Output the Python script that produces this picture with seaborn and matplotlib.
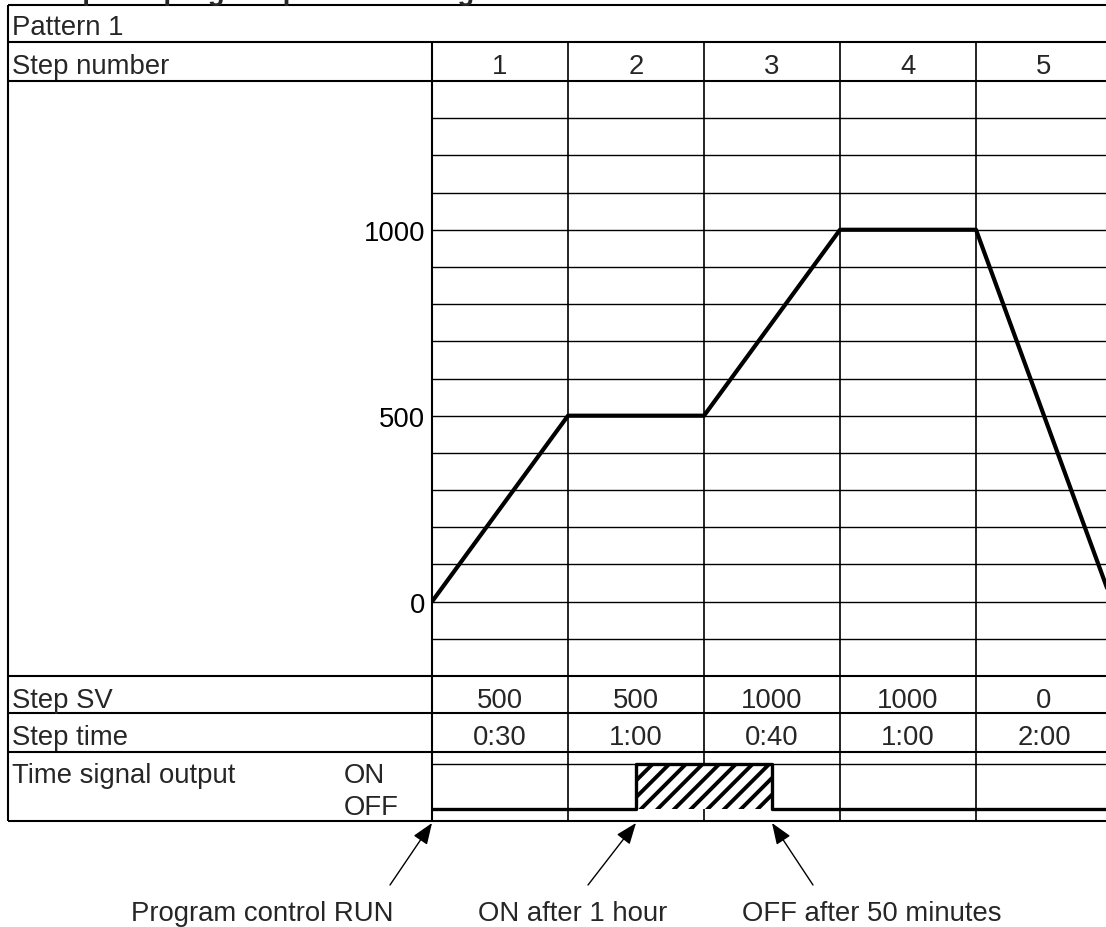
"""
Program pattern setting example: step SV ramp + time signal output row
"""
import matplotlib
matplotlib.use("Agg")
import matplotlib.pyplot as plt
import matplotlib.transforms as mtrans
import numpy as np
import pandas as pd
import seaborn as sns

sns.set_theme(style="white")
plt.rcParams.update({
    "font.family": ["Liberation Sans", "DejaVu Sans"],
    "font.size": 19.8,
    "hatch.linewidth": 2.8,
    "hatch.color": "black",
})

# ---- data -------------------------------------------------------------
TITLE = "Example of program pattern setting"
PATTERN_LABEL = "Pattern 1"
ROW_LABELS = ["Step number", "Step SV", "Step time", "Time signal output"]
STEP_NUMBERS = [1, 2, 3, 4, 5]
START_SV = 0
STEP_SV = [500, 500, 1000, 1000, 0]
STEP_TIME = ["0:30", "1:00", "0:40", "1:00", "2:00"]
Y_TICKS = [0, 500, 1000]
SIGNAL_ON_MIN = 60      # ON after 1 hour
SIGNAL_OFF_MIN = 110    # OFF after 50 minutes more
NOTES = ["Program control RUN", "ON after 1 hour", "OFF after 50 minutes"]

# ---- layout (pixels) --------------------------------------------------
W, H = 1106, 928
X_LEFT, X_DATA, COL_W = 8, 432, 136
Y_TOP, Y_PAT, Y_STEP = 6, 43, 82
Y_PLOT_BOT, Y_SV, Y_TIME, Y_BOT = 677, 714, 753, 822
Y_ON, Y_OFF = 765, 810


def fig_rect(x0, y0, x1, y1):
    return [x0 / W, 1 - y1 / H, (x1 - x0) / W, (y1 - y0) / H]


step_min = [int(t.split(":")[0]) * 60 + int(t.split(":")[1]) for t in STEP_TIME]
bounds = np.concatenate([[0], np.cumsum(step_min)])
step_idx = np.arange(len(bounds))


def to_step(minutes):
    return float(np.interp(minutes, bounds, step_idx))


fig = plt.figure(figsize=(W / 100, H / 100), dpi=100)

# table frame in pixel coords
frame = fig.add_axes([0, 0, 1, 1], zorder=0)
frame.set_xlim(0, W)
frame.set_ylim(H, 0)
frame.axis("off")

# main SV plot
ax = fig.add_axes(fig_rect(X_DATA, Y_STEP, W, Y_PLOT_BOT), zorder=2)
ax.patch.set_alpha(0)
df = pd.DataFrame({"step": step_idx, "sv": [START_SV] + STEP_SV})
sns.lineplot(data=df, x="step", y="sv", ax=ax, color="black", lw=3, zorder=5)
ax.set_xlim(0, (W - X_DATA) / COL_W)
ax.set_ylim(-200, 1400)
ax.set_yticks(Y_TICKS)
ax.set_yticks(np.arange(-100, 1400, 100), minor=True)
ax.grid(which="both", axis="y", color="black", lw=1.0)
ax.tick_params(axis="y", which="both", length=0, pad=5, labelsize=19.8, colors="black")
ax.tick_params(axis="x", bottom=False, labelbottom=False)
ax.set_xlabel("")
ax.set_ylabel("")
for s in ax.spines.values():
    s.set_visible(False)

# time signal row
ax_sig = fig.add_axes(fig_rect(X_DATA, Y_TIME, W, Y_BOT), sharex=ax, zorder=3)
ax_sig.patch.set_alpha(0)
px = Y_OFF - Y_ON
ax_sig.set_ylim(-(Y_BOT - Y_OFF) / px, 1 + (Y_ON - Y_TIME) / px)
x_on, x_off = to_step(SIGNAL_ON_MIN), to_step(SIGNAL_OFF_MIN)
sig_x = [0, x_on, x_on, x_off, x_off, len(STEP_SV)]
sig_y = [0, 0, 1, 1, 0, 0]
ax_sig.fill_between([x_on, x_off], 0, 1, facecolor="white", hatch="//",
                    edgecolor="black", lw=0, zorder=2)
ax_sig.axhline(1, color="black", lw=1.0, zorder=1)
sns.lineplot(x=sig_x, y=sig_y, sort=False, estimator=None, ax=ax_sig,
             color="black", lw=2.4, zorder=4)
ax_sig.axis("off")

# table lines
for y in [Y_TOP, Y_PAT, Y_STEP, Y_PLOT_BOT, Y_SV, Y_TIME, Y_BOT]:
    frame.hlines(y, X_LEFT, W, color="black", lw=1.5)
frame.vlines(X_LEFT, Y_TOP, Y_BOT, color="black", lw=1.5)
frame.vlines(X_DATA, Y_PAT, Y_BOT, color="black", lw=1.5)
colx = mtrans.blended_transform_factory(ax.transData, frame.transData)
frame.vlines(np.arange(1, len(STEP_SV)), Y_PAT, Y_BOT, color="black", lw=1.2,
             transform=colx)

# texts
frame.text(9, -0.5, TITLE, fontweight="bold", va="baseline", ha="left")
frame.text(12, 35, PATTERN_LABEL, va="baseline")
for lab, yb in zip(ROW_LABELS, [74, 708, 745, 783]):
    frame.text(12, yb, lab, va="baseline")
frame.text(344, 783, "ON", va="baseline")
frame.text(344, 815, "OFF", va="baseline")

centers = np.arange(len(STEP_SV)) + 0.5
for cx, n, sv, t in zip(centers, STEP_NUMBERS, STEP_SV, STEP_TIME):
    frame.text(cx, 74, str(n), ha="center", va="baseline", transform=colx)
    frame.text(cx, 708, str(sv), ha="center", va="baseline", transform=colx)
    frame.text(cx, 745, t, ha="center", va="baseline", transform=colx)

# annotations
targets = [0.0, x_on, x_off]
tails = [(390, 886), (588, 886), (813, 886)]
text_x = [262, 573, 872]
for note, tx, tail, lx in zip(NOTES, targets, tails, text_x):
    frame.annotate("", xy=(tx, 824), xycoords=colx,
                   xytext=tail, textcoords="data",
                   arrowprops=dict(arrowstyle="-|>,head_length=0.65,head_width=0.25",
                                   color="black", lw=1.0, mutation_scale=20,
                                   shrinkA=0, shrinkB=0))
    frame.text(lx, 921, note, ha="center", va="baseline")

fig.savefig("out.png", dpi=100)
plt.close(fig)
